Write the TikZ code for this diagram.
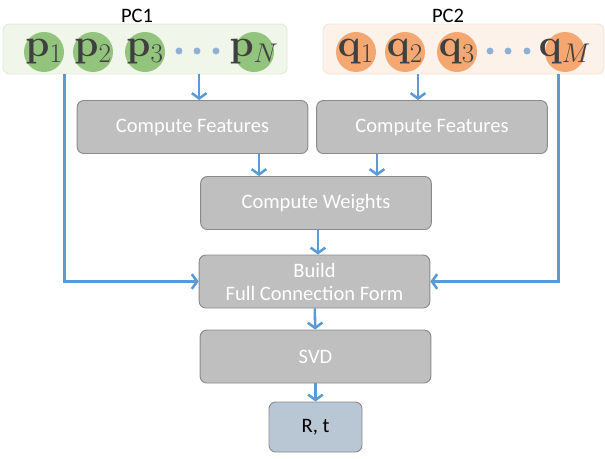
\documentclass[tikz,border=0pt]{standalone}
\usepackage{fix-cm}
\usepackage{amsmath}
\usepackage[no-math]{fontspec}
\newfontfamily\calibri{Carlito}
\usepackage{tikz}
\usetikzlibrary{arrows.meta,positioning,calc}

\definecolor{boxgray}{RGB}{191,191,191}
\definecolor{boxline}{RGB}{138,138,138}
\definecolor{arrowblue}{RGB}{91,155,213}
\definecolor{ptgreen}{RGB}{147,196,125}
\definecolor{ptorange}{RGB}{244,167,113}
\definecolor{grpgreen}{RGB}{240,246,234}
\definecolor{grpgreenline}{RGB}{222,235,212}
\definecolor{grporange}{RGB}{252,242,234}
\definecolor{grporangeline}{RGB}{246,228,212}
\definecolor{dotblue}{RGB}{143,176,214}
\definecolor{resblue}{RGB}{185,198,212}
\definecolor{ptink}{RGB}{64,64,64}

% point label that does not widen its circle
\newcommand{\ptlabel}[1]{\makebox[0pt]{$#1$}}

\begin{document}
\begin{tikzpicture}[
    x=0.75pt, y=-0.75pt,
    proc/.style={draw=boxline, fill=boxgray, rounded corners=5pt, line width=0.7pt,
        text=white, font=\calibri\fontsize{15.4}{17.2}\selectfont, align=center,
        minimum width=173pt, minimum height=39.75pt, inner sep=0pt},
    grp/.style={rounded corners=5pt, line width=0.7pt, minimum height=37.5pt, inner sep=0pt},
    pnt/.style={circle, minimum size=30pt, inner sep=0pt, text=ptink,
        font=\fontsize{29}{30}\selectfont},
    lbl/.style={font=\calibri\fontsize{15.4}{17}\selectfont},
    arr/.style={-{Straight Barb[length=4pt,width=11pt]}, line width=1.9pt, draw=arrowblue}
]
\useasboundingbox (0,0) rectangle (605,458);

% Point cloud 1
\node[lbl] (pc1lbl) at (137,16) {PC1};
\node[grp, draw=grpgreenline, fill=grpgreen, minimum width=213pt] (pc1) at (145,49) {};
\node[pnt, fill=ptgreen] (p1) at (44,52) {\ptlabel{\mathbf{p}_1}};
\node[pnt, fill=ptgreen] (p2) at (93,52) {\ptlabel{\mathbf{p}_2}};
\node[pnt, fill=ptgreen] (p3) at (145,52) {\ptlabel{\mathbf{p}_3}};
\node[pnt, fill=ptgreen] (pN) at (254,52) {\ptlabel{\mathbf{p}_N}};
\foreach \x in {179,197,216} \fill[dotblue] (\x,51) circle (2.6pt);

% Point cloud 2
\node[lbl] (pc2lbl) at (448,16) {PC2};
\node[grp, draw=grporangeline, fill=grporange, minimum width=210.75pt] (pc2) at (463.5,49) {};
\node[pnt, fill=ptorange] (q1) at (356,52) {\ptlabel{\mathbf{q}_1}};
\node[pnt, fill=ptorange] (q2) at (405,52) {\ptlabel{\mathbf{q}_2}};
\node[pnt, fill=ptorange] (q3) at (457,52) {\ptlabel{\mathbf{q}_3}};
\node[pnt, fill=ptorange] (qM) at (565,52) {\ptlabel{\mathbf{q}_M}};
\foreach \x in {490,508,527} \fill[dotblue] (\x,51) circle (2.6pt);

% Pipeline
\node[proc] (cf1) at (192.5,127) {Compute Features};
\node[proc] (cf2) at (432,127) {Compute Features};
\node[proc] (cw) at (316,203) {Compute Weights};
\node[proc] (build) at (314.5,281.5) {Build\\Full Connection Form};
\node[proc] (svd) at (315.5,356.5) {SVD};
\node[proc, fill=resblue, text=black, minimum width=69.75pt, minimum height=37.5pt] (rt) at (315.5,427) {R, t};

\draw[arr] ([xshift=5pt]cf1.north |- pc1.south) -- ([xshift=5pt]cf1.north);
\draw[arr] ([xshift=-10.5pt]cf2.north |- pc2.south) -- ([xshift=-10.5pt]cf2.north);
\draw[arr] ([xshift=-42.75pt]cw.north |- cf1.south) -- ([xshift=-42.75pt]cw.north);
\draw[arr] ([xshift=45.75pt]cw.north |- cf2.south) -- ([xshift=45.75pt]cw.north);
\draw[arr] ([xshift=1.5pt]cw.south) -- ([xshift=1.5pt]cw.south |- build.north);
\draw[arr] ($(pc1.south west)+(62,0)$) |- (build.west);
\draw[arr] ($(pc2.south west)+(236,0)$) |- (build.east);
\draw[arr] (build) -- (svd);
\draw[arr] (svd) -- (rt);
\end{tikzpicture}
\end{document}
